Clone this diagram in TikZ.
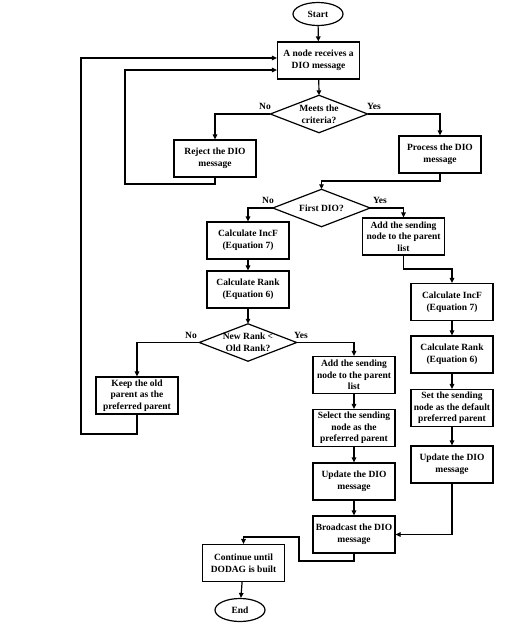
\documentclass[tikz,border=0pt]{standalone}
\usepackage{fontspec}
\setmainfont{Liberation Serif}
\usetikzlibrary{shapes.geometric,arrows.meta}
\begin{document}
\begin{tikzpicture}[x=1pt,y=-1pt,
  every node/.style={font=\fontsize{9.5}{11.7}\selectfont\bfseries, align=center},
  box/.style={draw, line width=1.2pt, minimum width=82pt, minimum height=37pt, inner sep=1pt},
  term/.style={draw, ellipse, line width=1.2pt, minimum width=50pt, minimum height=23pt, inner sep=0pt},
  dec/.style={minimum width=97pt, minimum height=37pt, inner sep=0pt},
  lab/.style={inner sep=0pt},
  arr/.style={line width=1.2pt, -{Triangle[length=5pt,width=4.5pt]}},
  ln/.style={line width=1.2pt}
]
\useasboundingbox (0,0) rectangle (531,630);

\node[term] (start) at (318,14) {Start};
\node[box] (recv) at (318.5,60.5) {A node receives a\\DIO message};
\node[dec] (meets) at (319,114) {Meets the\\criteria?};
\node[box] (reject) at (215,158.5) {Reject the DIO\\message};
\node[box] (process) at (440,154.5) {Process the DIO\\message};
\node[dec] (first) at (321.5,208) {First DIO?};
\node[box] (incf1) at (248,240.5) {Calculate IncF\\(Equation 7)};
\node[box] (rank1) at (248,289.5) {Calculate Rank\\(Equation 6)};
\node[box] (add1) at (403.5,236.5) {Add the sending\\node to the parent\\list};
\node[box] (incf2) at (452,302) {Calculate IncF\\(Equation 7)};
\node[box] (rank2) at (452,354.5) {Calculate Rank\\(Equation 6)};
\node[box] (setp) at (452,408) {Set the sending\\node as the default\\preferred parent};
\node[box] (upd2) at (452,464.5) {Update the DIO\\message};
\node[dec] (newrank) at (248,342.5) {New Rank <\\Old Rank?};
\node[box] (keep) at (137,395.5) {Keep the old\\parent as the\\preferred parent};
\node[box] (add2) at (354,375) {Add the sending\\node to the parent\\list};
\node[box] (select) at (354,428) {Select the sending\\node as the\\preferred parent};
\node[box] (upd1) at (354,481.5) {Update the DIO\\message};
\node[box] (bcast) at (354,534.5) {Broadcast the DIO\\message};
\node[box] (cont) at (243.5,563) {Continue until\\DODAG is built};
\node[term] (end) at (240,610) {End};

\foreach \d in {meets,first,newrank}
  \draw[ln] (\d.north) -- (\d.east) -- (\d.south) -- (\d.west) -- cycle;

\node[lab] (n1) at (265,106) {No};
\node[lab] (y1) at (374,106) {Yes};
\node[lab] (n2) at (268,200) {No};
\node[lab] (y2) at (380,200) {Yes};
\node[lab] (n3) at (191,335) {No};
\node[lab] (y3) at (301,335) {Yes};

\coordinate (c1) at (125,184);
\coordinate (c2) at (125,70);
\coordinate (c3) at (81,434);
\coordinate (c4) at (81,58);
\coordinate (c5) at (403.5,269);
\coordinate (c6) at (354,561);
\coordinate (c7) at (299,537);
\coordinate (c8) at (440,181);

\draw[arr] (start) -- (recv);
\draw[arr] (recv) -- (meets.north);
\draw[arr] (meets.west) -| (reject.north);
\draw[arr] (meets.east) -| (process.north);
\draw[arr] (reject.south) |- (c1) -- (c2) -- (c2 -| recv.west);
\draw[arr] (process.south) -- (c8) -| (first.north);
\draw[arr] (first.west) -| (incf1.north);
\draw[arr] (first.east) -| (add1.north);
\draw[arr] (incf1) -- (rank1);
\draw[arr] (rank1) -- (newrank.north);
\draw[arr] (add1.south) -- (c5) -| (incf2.north);
\draw[arr] (incf2) -- (rank2);
\draw[arr] (rank2) -- (setp);
\draw[arr] (setp) -- (upd2);
\draw[arr] (newrank.west) -| (keep.north);
\draw[arr] (newrank.east) -| (add2.north);
\draw[arr] (add2) -- (select);
\draw[arr] (select) -- (upd1);
\draw[arr] (upd1) -- (bcast);
\draw[arr] (keep.south) |- (c3) -- (c4) -- (c4 -| recv.west);
\draw[arr] (upd2.south) |- (bcast.east);
\draw[arr] (bcast.south) -- (c6) -| (c7) |- (c7 -| cont.north) -- (cont.north);
\draw[arr] (cont) -- (end);
\end{tikzpicture}
\end{document}
